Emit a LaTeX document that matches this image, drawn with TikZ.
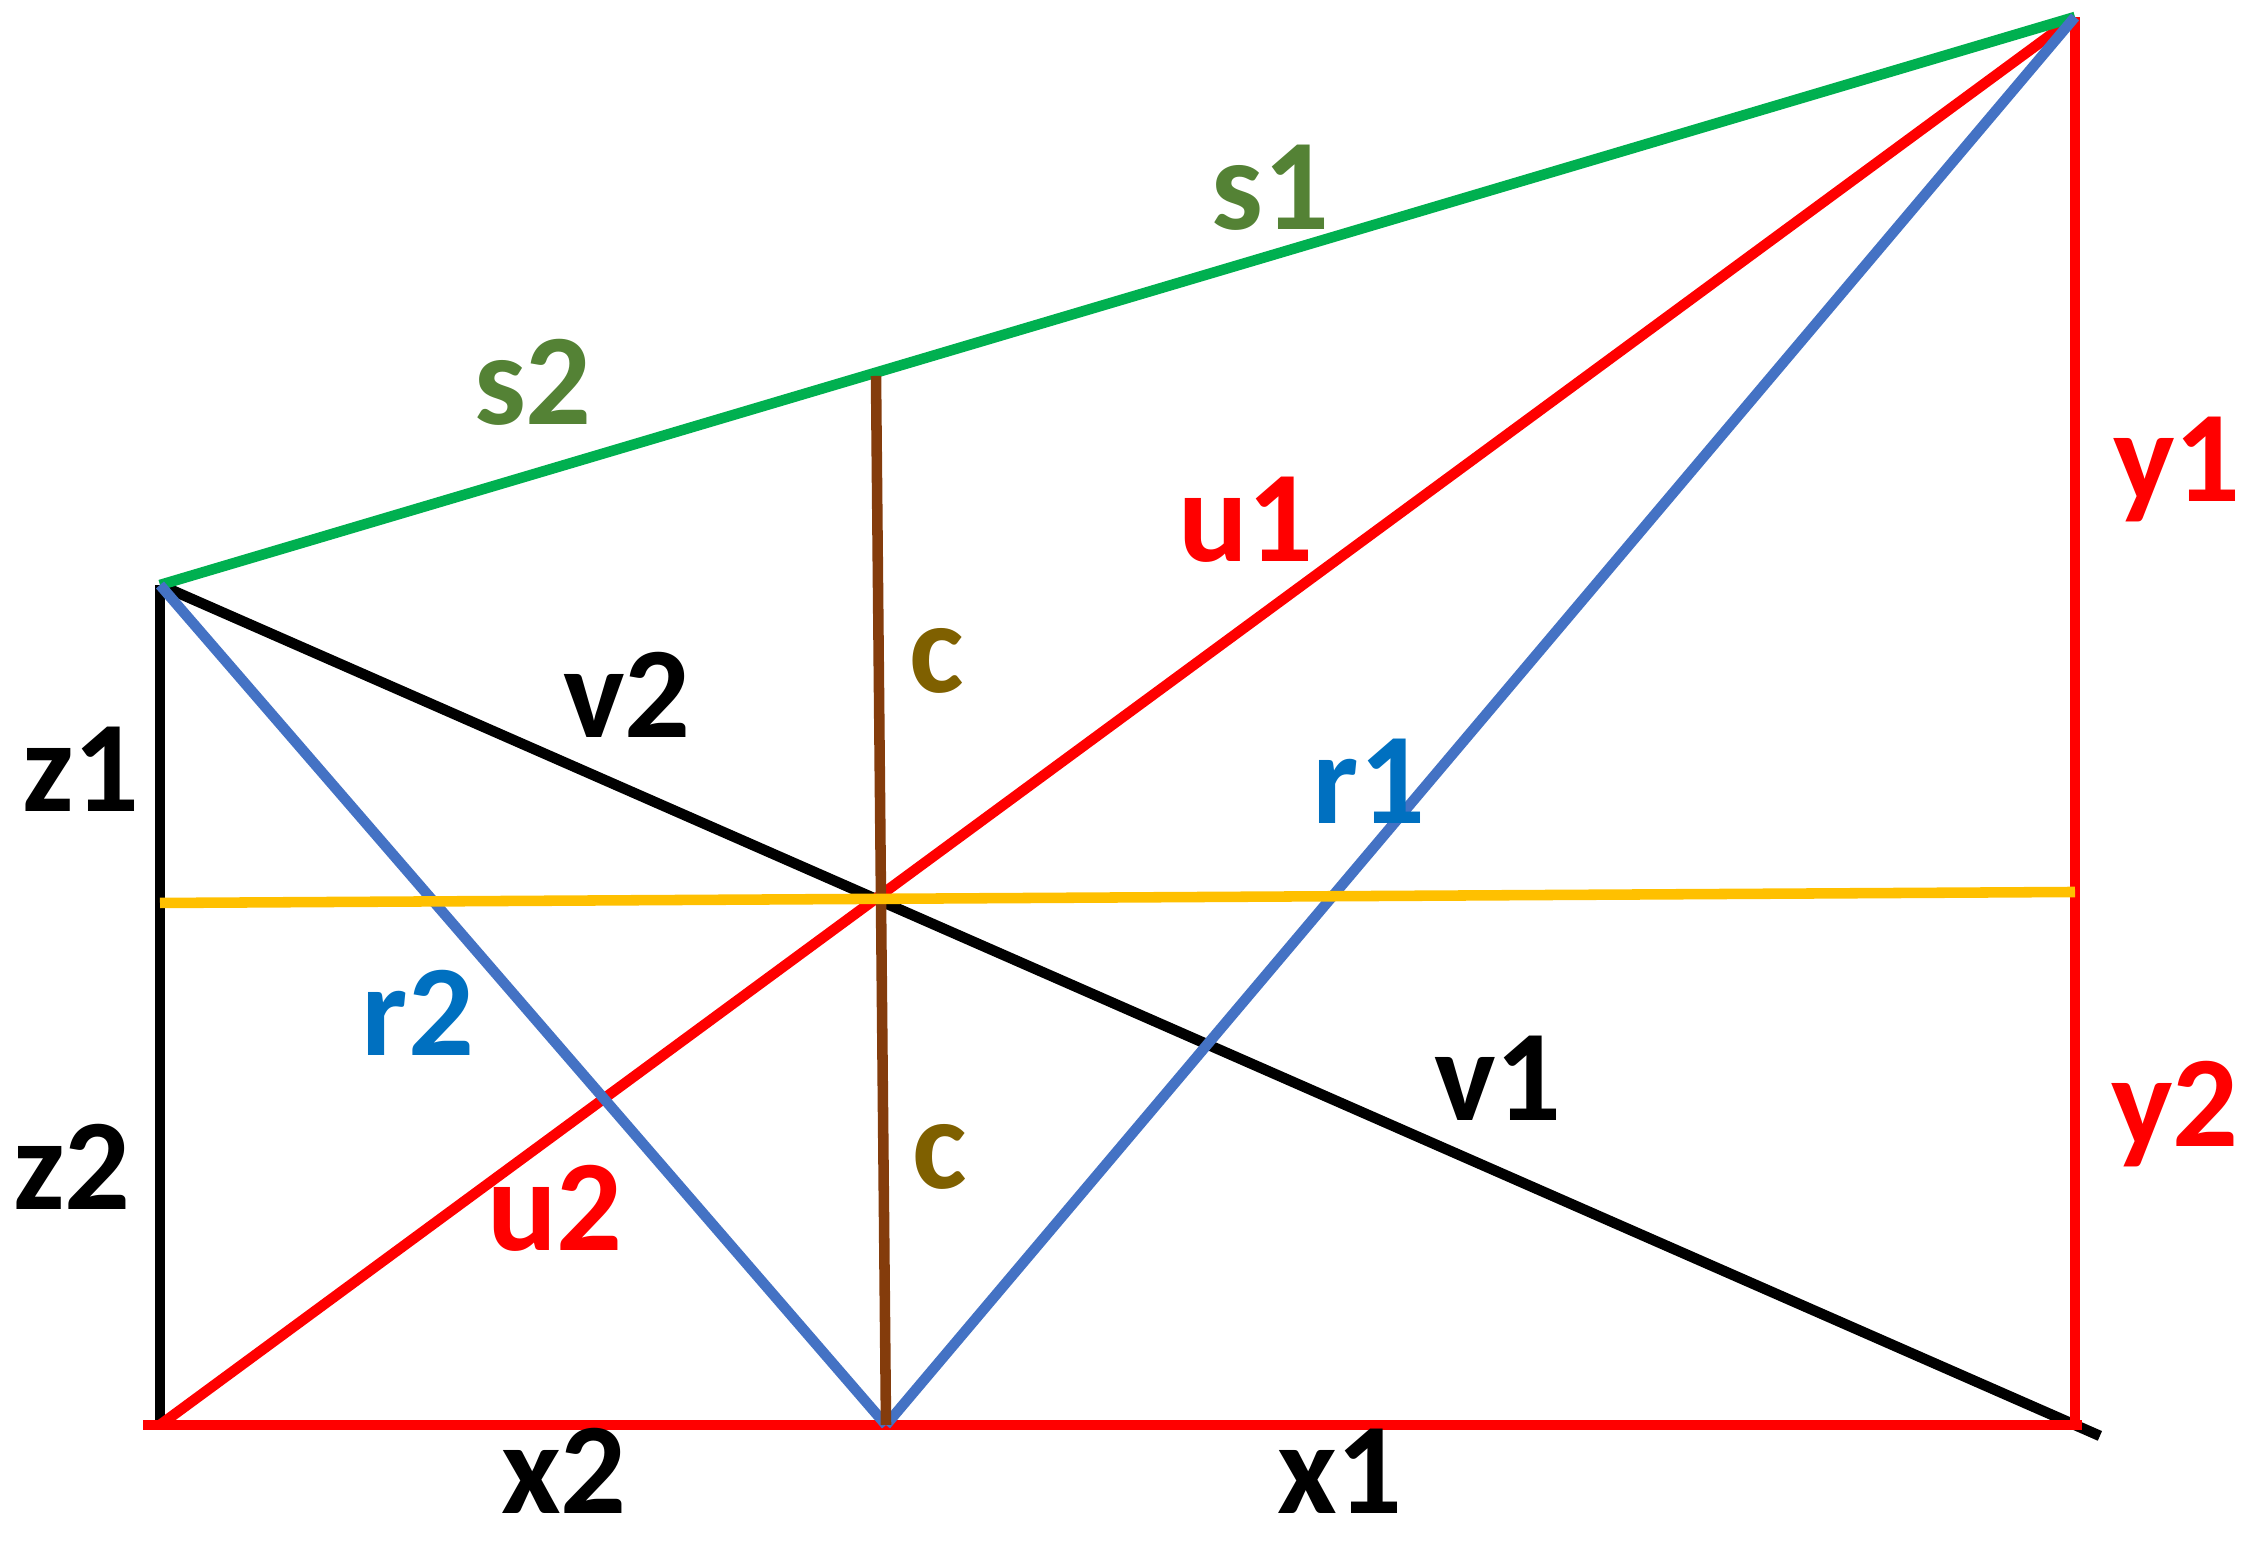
\documentclass[tikz,border=0pt]{standalone}
\usepackage{fontspec}
\setmainfont{Carlito}
\usetikzlibrary{calc}
\definecolor{lineRed}{HTML}{FF0000}
\definecolor{lineGreen}{HTML}{00B050}
\definecolor{lineBlue}{HTML}{4472C4}
\definecolor{lineBrown}{HTML}{843C0C}
\definecolor{lineYellow}{HTML}{FFC000}
\definecolor{txtGreen}{HTML}{548235}
\definecolor{txtBlue}{HTML}{0070C0}
\definecolor{txtOlive}{HTML}{7F6000}

\begin{document}
\begin{tikzpicture}[
    seg/.style={line width=3pt},
    lbl/.style={anchor=base,inner sep=0pt,font=\fontsize{37}{40}\selectfont\bfseries}]
    \useasboundingbox (0,0) rectangle (22.59,15.42);

    % Corner points
    \coordinate (O) at (1.43,1.17); % left end of base
    \coordinate (A) at (1.60,1.17);
    \coordinate (B) at (1.60,9.57);
    \coordinate (T) at (20.75,15.25);
    \coordinate (R) at (20.75,1.17);
    \coordinate (Rb) at (20.82,1.17);
    \coordinate (M) at (8.86,1.17);
    \coordinate (P) at (8.76,11.66); % foot of c on s
    \coordinate (X) at (intersection of A--T and B--R);
    \coordinate (YL) at (1.60,6.39);
    \coordinate (YR) at (20.75,6.50);

    % Draw black sides
    \draw[seg] (A) -- (B);
    \draw[seg] (B) -- ($(B)!1.013!(R)$);

    % Draw red base, right side and diagonal
    \draw[seg,lineRed] (O) -- (Rb);
    \draw[seg,lineRed] (R) -- (T);
    \draw[seg,lineRed] (A) -- (T);

    % Draw green top
    \draw[seg,lineGreen] (B) -- (T);

    % Draw blue pair
    \draw[seg,lineBlue] (B) -- (M);
    \draw[seg,lineBlue] (M) -- (T);

    % Draw brown c and yellow level
    \draw[seg,lineBrown] (M) -- (P);
    \draw[seg,lineYellow] (YL) -- (YR);

    % Labels
    \node[lbl,text=txtGreen] (s1) at (12.70,13.12) {s1};
    \node[lbl,text=txtGreen] (s2) at (5.33,11.17) {s2};
    \node[lbl,text=lineRed] (y1) at (21.77,10.40) {y1};
    \node[lbl,text=lineRed] (y2) at (21.75,3.95) {y2};
    \node[lbl,text=lineRed] (u1) at (12.46,9.80) {u1};
    \node[lbl,text=lineRed] (u2) at (5.55,2.91) {u2};
    \node[lbl,text=txtOlive] (c1) at (9.37,8.49) {c};
    \node[lbl,text=txtOlive] (c2) at (9.40,3.53) {c};
    \node[lbl] (v2) at (6.27,8.04) {v2};
    \node[lbl] (v1) at (14.98,4.21) {v1};
    \node[lbl] (z1) at (0.81,7.30) {z1};
    \node[lbl] (z2) at (0.72,3.32) {z2};
    \node[lbl,text=txtBlue] (r1) at (13.69,7.18) {r1};
    \node[lbl,text=txtBlue] (r2) at (4.18,4.86) {r2};
    \node[lbl] (x2) at (5.64,0.28) {x2};
    \node[lbl] (x1) at (13.40,0.28) {x1};
\end{tikzpicture}
\end{document}
